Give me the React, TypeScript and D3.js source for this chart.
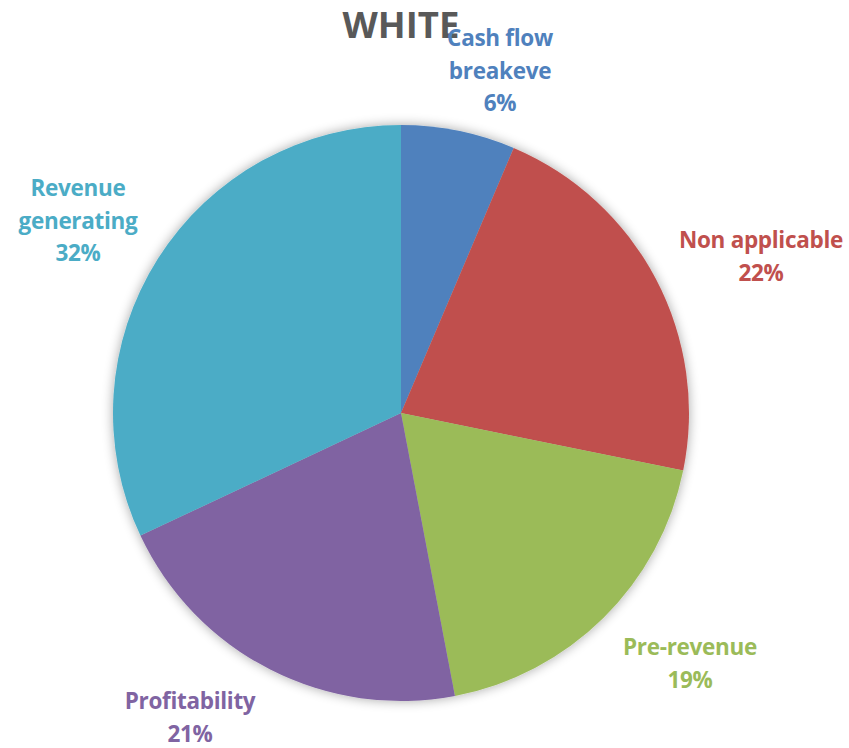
import React from "react";
import * as d3 from "d3";

const categories = ["Cash flow breakeve", "Non applicable", "Pre-revenue", "Profitability", "Revenue generating"];
const values = [6.4, 21.8, 18.8, 21.0, 32.0];
const pctLabels = ["6%", "22%", "19%", "21%", "32%"];
const labelLines = [["Cash flow", "breakeve", "6%"], ["Non applicable", "22%"], ["Pre-revenue", "19%"], ["Profitability", "21%"], ["Revenue", "generating", "32%"]];
const colors = ["#4F81BD", "#C0504D", "#9BBB59", "#8064A2", "#4BACC6"];
const labelPos = [[500, 46], [761, 248], [690, 655], [190, 709], [78, 196]];

export default function App() {
  const W = 849, H = 748;
  const cx = 401, cy = 413, r = 288;
  const pie = d3.pie<number>().sort(null).value((d) => d)(values);
  const arc = d3.arc<d3.PieArcDatum<number>>().innerRadius(0).outerRadius(r);
  const font = "'Open Sans', sans-serif";
  return (
    <svg width={W} height={H} style={{ position: "absolute", left: 0, top: 0 }}>
      <defs>
        <filter id="sh" x="-20%" y="-20%" width="140%" height="140%">
          <feGaussianBlur in="SourceAlpha" stdDeviation="6" />
          <feOffset dx="0" dy="0" result="b" />
          <feComponentTransfer><feFuncA type="linear" slope="0.35" /></feComponentTransfer>
          <feMerge><feMergeNode /><feMergeNode in="SourceGraphic" /></feMerge>
        </filter>
      </defs>
      <rect width={W} height={H} fill="#fff" />
      <g transform={`translate(${cx},${cy})`} filter="url(#sh)">
        {pie.map((p, i) => (
          <path key={categories[i]} d={arc(p) || ""} fill={colors[i]} />
        ))}
      </g>
      <text x={401} y={38} textAnchor="middle" fontFamily={font} fontWeight="bold" fontSize={36.5} fill="#595959">WHITE</text>
      {labelLines.map((lines, i) => (
        <text key={i} x={labelPos[i][0]} y={labelPos[i][1]} textAnchor="middle" fontFamily={font} fontWeight="bold" fontSize={22.5} fill={colors[i]} letterSpacing={-0.3}>
          {lines.map((l, j) => (
            <tspan key={j} x={labelPos[i][0]} dy={j === 0 ? 0 : 32.5}>{l}</tspan>
          ))}
        </text>
      ))}
    </svg>
  );
}
